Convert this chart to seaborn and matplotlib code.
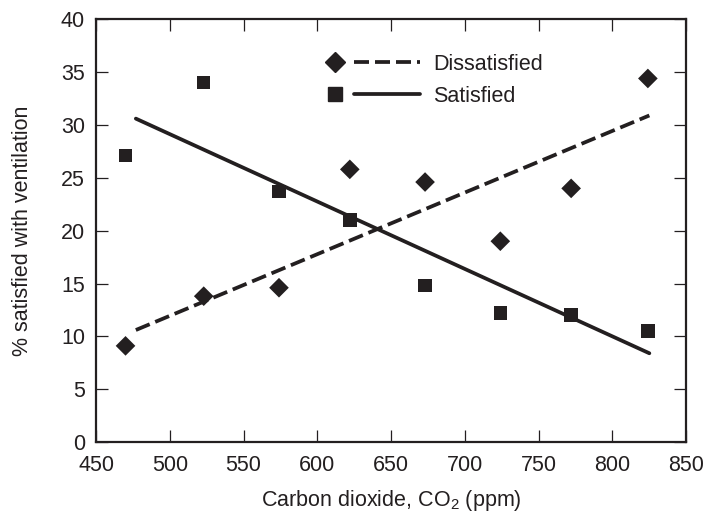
import matplotlib
matplotlib.use('Agg')
import matplotlib.pyplot as plt
import seaborn as sns
import pandas as pd
from matplotlib.lines import Line2D
from matplotlib.legend_handler import HandlerBase

# Данные
co2 = [470, 523, 574, 622, 673, 724, 772, 824]
satisfied = [27.1, 34.0, 23.7, 21.0, 14.8, 12.2, 12.0, 10.5]
dissatisfied = [9.1, 13.8, 14.6, 25.8, 24.6, 19.0, 24.0, 34.4]

# Линии тренда (концы линий)
fit_x = [477, 825]
sat_fit = [30.6, 8.4]
dis_fit = [10.6, 30.9]

sns.set_style('ticks')
plt.rcParams['font.family'] = ['Liberation Sans', 'DejaVu Sans']
plt.rcParams['mathtext.default'] = 'regular'

FS = 15.5
ink = '#231f20'

pts = pd.DataFrame({'co2': co2 * 2,
                    'value': satisfied + dissatisfied,
                    'group': ['Satisfied'] * len(co2) + ['Dissatisfied'] * len(co2)})
fits = pd.DataFrame({'co2': fit_x * 2,
                     'value': sat_fit + dis_fit,
                     'group': ['Satisfied'] * 2 + ['Dissatisfied'] * 2})

fig = plt.figure(figsize=(7.06, 5.14), dpi=100)
ax = fig.add_axes([0.136, 0.140, 0.836, 0.8225])

sns.scatterplot(data=pts[pts.group == 'Dissatisfied'], x='co2', y='value', marker='D',
                s=100, color=ink, edgecolor='none', ax=ax, legend=False, zorder=3)
sns.scatterplot(data=pts[pts.group == 'Satisfied'], x='co2', y='value', marker='s',
                s=95, color=ink, edgecolor='none', ax=ax, legend=False, zorder=3)
sns.lineplot(data=fits[fits.group == 'Dissatisfied'], x='co2', y='value', color=ink,
             lw=2.7, dashes=False, ax=ax, legend=False).lines[-1].set_dashes((4, 1.6))
sns.lineplot(data=fits[fits.group == 'Satisfied'], x='co2', y='value', color=ink,
             lw=2.7, ax=ax, legend=False)

ax.set_xlim(450, 850)
ax.set_ylim(0, 40)
ax.set_xticks(range(450, 851, 50))
ax.set_yticks(range(0, 41, 5))
ax.tick_params(direction='in', length=8.5, width=0.9, color=ink, labelsize=FS,
               top=True, right=True, labelcolor=ink)
ax.tick_params(axis='x', pad=9)
ax.tick_params(axis='y', pad=8)
for sp in ax.spines.values():
    sp.set_linewidth(1.6)
    sp.set_color(ink)
ax.set_xlabel('Carbon dioxide, CO$_2$ (ppm)', fontsize=FS, color=ink, labelpad=9)
ax.set_ylabel('% satisfied with ventilation', fontsize=FS, color=ink, labelpad=20)


# Легенда: маркер, затем линия
class MarkerThenLine(HandlerBase):
    def create_artists(self, legend, orig_handle, xdescent, ydescent, width, height,
                       fontsize, trans):
        mk, ln = orig_handle
        x0 = -xdescent
        y = height / 2 - ydescent
        m = Line2D([x0 + 0.08 * width], [y], marker=mk.get_marker(), ms=mk.get_markersize(),
                   color=mk.get_color(), ls='none', transform=trans)
        l = Line2D([x0 + 0.29 * width, x0 + width], [y, y], color=ln.get_color(),
                   lw=ln.get_linewidth(), ls=ln.get_linestyle(), transform=trans)
        if ln.get_linestyle() != '-':
            l.set_dashes((4, 1.6))
        return [m, l]


h_dis = (Line2D([], [], marker='D', ms=9.8, color=ink, ls='none'),
         Line2D([], [], color=ink, lw=2.7, ls='--'))
h_sat = (Line2D([], [], marker='s', ms=9.4, color=ink, ls='none'),
         Line2D([], [], color=ink, lw=2.7, ls='-'))
ax.legend([h_dis, h_sat], ['Dissatisfied', 'Satisfied'],
          handler_map={tuple: MarkerThenLine()}, frameon=False, fontsize=FS,
          loc='upper left', bbox_to_anchor=(0.392, 0.918), borderpad=0, borderaxespad=0,
          handlelength=4.3, handletextpad=0.6, labelspacing=0.5, labelcolor=ink)

fig.savefig('out.png', dpi=100)
